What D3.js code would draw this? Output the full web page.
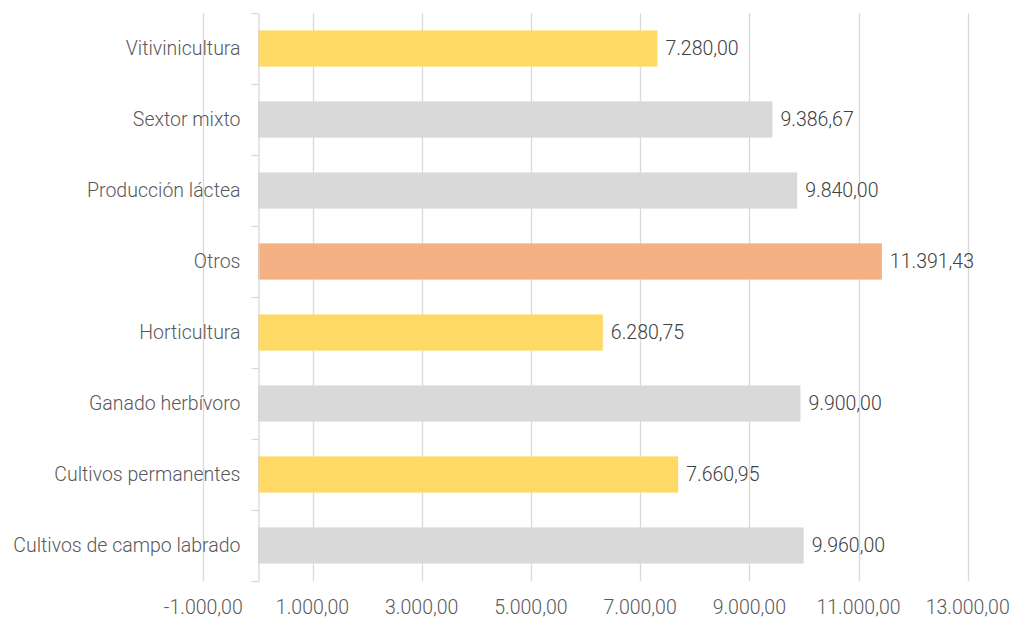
<!DOCTYPE html>
<html>
<head>
<meta charset="utf-8">
<script src="https://cdn.jsdelivr.net/npm/d3@7"></script>
<style>
  body { margin: 0; background: #fff; }
  text { font-family: "Liberation Sans Narrow", "Arial Narrow", Roboto, sans-serif; font-weight: 300; }
</style>
</head>
<body>
<script>
var categories = ["Vitivinicultura", "Sextor mixto", "Producción láctea", "Otros",
                  "Horticultura", "Ganado herbívoro", "Cultivos permanentes", "Cultivos de campo labrado"];
var values = [7280.00, 9386.67, 9840.00, 11391.43, 6280.75, 9900.00, 7660.95, 9960.00];
var barColors = ["#FFD966", "#D9D9D9", "#D9D9D9", "#F4B183", "#FFD966", "#D9D9D9", "#FFD966", "#D9D9D9"];
var tickValues = [-1000, 1000, 3000, 5000, 7000, 9000, 11000, 13000];

var width = 1013, height = 620;
var plotTop = 13, plotBottom = 581;
var fontSize = 19.5;

var svg = d3.select("body").append("svg")
    .attr("width", width)
    .attr("height", height);

var locale = d3.formatLocale({decimal: ",", thousands: ".", grouping: [3], currency: ["", ""], minus: "-"});
var fmt = locale.format(",.2f");

var x = d3.scaleLinear()
    .domain([-1000, 13000])
    .range([203.3, 967.7]);

var y = d3.scaleBand()
    .domain(categories)
    .range([plotTop, plotBottom])
    .paddingInner(0.49)
    .paddingOuter(0.245);

// vertical grid lines
svg.append("g")
    .selectAll("line")
    .data(tickValues)
    .enter().append("line")
    .attr("x1", d => Math.round(x(d)) + 0.5)
    .attr("x2", d => Math.round(x(d)) + 0.5)
    .attr("y1", plotTop)
    .attr("y2", plotBottom)
    .attr("stroke", "#D9D9D9")
    .attr("stroke-width", 1.3);

// x tick labels
svg.append("g")
    .selectAll("text")
    .data(tickValues)
    .enter().append("text")
    .attr("x", d => x(d))
    .attr("y", 614)
    .attr("text-anchor", "middle")
    .attr("font-size", fontSize)
    .attr("fill", "#595959")
    .text(d => fmt(d));

// bars
svg.append("g")
    .selectAll("rect")
    .data(values)
    .enter().append("rect")
    .attr("x", x(0))
    .attr("y", (d, i) => y(categories[i]))
    .attr("width", d => x(d) - x(0) + 2)
    .attr("height", y.bandwidth())
    .attr("fill", (d, i) => barColors[i]);

// value labels
svg.append("g")
    .selectAll("text")
    .data(values)
    .enter().append("text")
    .attr("x", d => x(d) + 10)
    .attr("y", (d, i) => y(categories[i]) + y.bandwidth() / 2)
    .attr("dy", "0.35em")
    .attr("font-size", fontSize)
    .attr("fill", "#404040")
    .text(d => fmt(d));

// category axis
var yAxis = d3.axisLeft(y)
    .tickSize(0)
    .tickPadding(18);
var gy = svg.append("g")
    .attr("transform", "translate(" + (Math.round(x(0)) + 0.5) + ",0)")
    .call(yAxis);
gy.select(".domain").attr("stroke", "#D9D9D9").attr("stroke-width", 1.3);
gy.selectAll(".tick text")
    .attr("font-size", fontSize)
    .attr("fill", "#595959")
    .style("font-family", "'Liberation Sans Narrow', 'Arial Narrow', Roboto, sans-serif");

// tick marks at category boundaries
var bounds = d3.range(categories.length + 1).map(i => plotTop + i * y.step());
gy.selectAll(".bound")
    .data(bounds)
    .enter().append("line")
    .attr("class", "bound")
    .attr("x1", -7)
    .attr("x2", 0)
    .attr("y1", d => Math.round(d) + 0.5)
    .attr("y2", d => Math.round(d) + 0.5)
    .attr("stroke", "#D9D9D9")
    .attr("stroke-width", 1.3);
</script>
</body>
</html>
